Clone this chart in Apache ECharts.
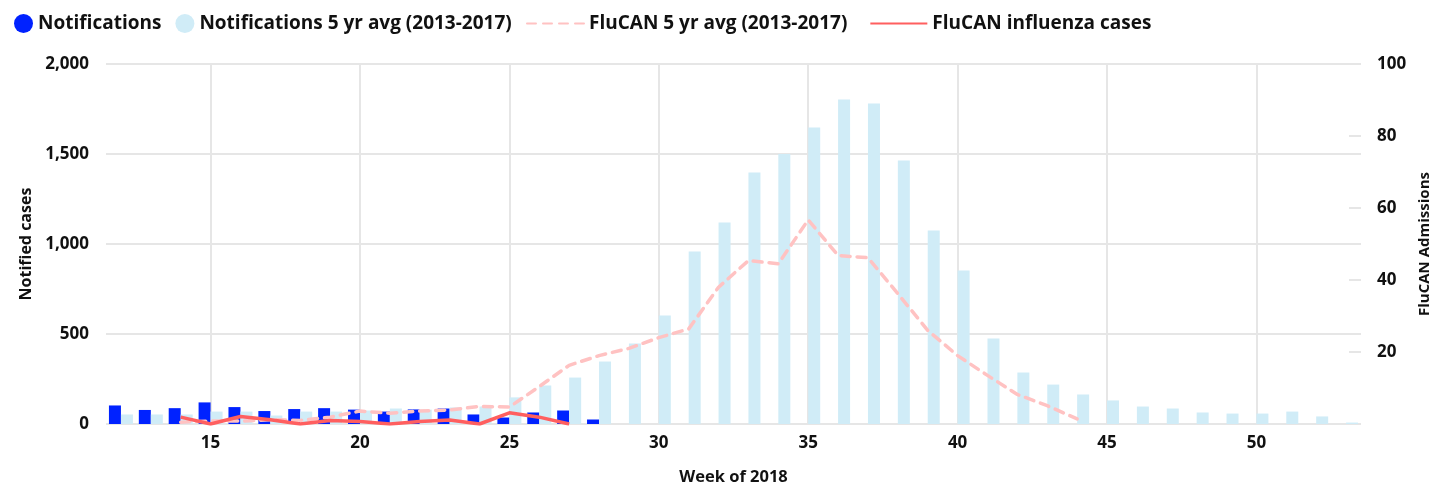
<!DOCTYPE html>
<html>
<head>
<meta charset="utf-8">
<script src="https://cdn.jsdelivr.net/npm/echarts@6/dist/echarts.min.js"></script>
<style>
html,body{margin:0;padding:0;background:#fff;}
#chart{width:1437px;height:484px;}
</style>
</head>
<body>
<div id="chart"></div>
<script>
const weeks = ['12','13','14','15','16','17','18','19','20','21','22','23','24','25','26','27','28','29','30','31','32','33','34','35','36','37','38','39','40','41','42','43','44','45','46','47','48','49','50','51','52','53'];
// Notifications 2018 (weeks 12-28)
const notifications = [103,78,88,120,94,72,83,88,80,69,81,86,53,36,64,75,25];
// Notifications 5 yr avg (weeks 12-53)
const notif5yr = [53,53,53,69,69,47,69,69,75,86,80,92,97,148,214,258,347,447,603,958,1119,1397,1500,1647,1803,1781,1464,1075,853,475,286,219,164,131,97,86,64,58,58,69,42,8];
// FluCAN 5 yr avg (weeks 14-44)
const flucan5yr = [0.5,0.8,0.8,1.2,1.0,1.9,3.6,3.0,3.6,3.9,4.9,4.7,10.4,16.3,19,21,24,26.4,38,45.4,44.5,56.7,46.8,46.2,36.2,26,19,13.5,8.2,5.1,1.4];
const flucan5yrStart = '14';
// FluCAN influenza cases (weeks 14-27)
const flucanCases = [1.9,0,2.1,1.2,0,1,0.7,0,0.7,1.1,0,3.1,1.9,0];
const flucanCasesStart = '14';
const leftTicks = [0,500,1000,1500,2000];
const rightTicks = [0,20,40,60,80,100];

function place(arr, startWeek) {
  const s = weeks.indexOf(startWeek);
  return weeks.map((w, i) => (i >= s && i - s < arr.length) ? arr[i - s] : null);
}

const FONT = 'Open Sans';
const grey = '#e6e6e6';
const chart = echarts.init(document.getElementById('chart'), null, {renderer: 'canvas'});
const every5 = (idx, val) => Number(val) % 5 === 0;
const tickText = {fontFamily: FONT, fontWeight: 'bold', fontSize: 17, color: '#111'};
const nameText = {fontFamily: FONT, fontWeight: 'bold', fontSize: 16, color: '#111'};

chart.setOption({
  animation: false,
  textStyle: {fontFamily: FONT},
  legend: [{
    left: 9, top: 9, icon: 'circle', itemWidth: 19, itemHeight: 19, itemGap: 14,
    textStyle: {fontFamily: FONT, fontWeight: 'bold', fontSize: 19, color: '#111'},
    data: ['Notifications', 'Notifications 5 yr avg (2013-2017)']
  }, {
    left: 521, top: 9, itemWidth: 57, itemHeight: 19, itemGap: 22,
    itemStyle: {opacity: 0},
    textStyle: {fontFamily: FONT, fontWeight: 'bold', fontSize: 19, color: '#111'},
    data: ['FluCAN 5 yr avg (2013-2017)', 'FluCAN influenza cases']
  }],
  grid: {left: 106, right: 76, top: 64, bottom: 60, outerBoundsMode: 'none', containLabel: false},
  xAxis: {
    type: 'category', data: weeks, boundaryGap: true,
    name: 'Week of 2018', nameLocation: 'middle', nameGap: 45,
    nameTextStyle: Object.assign({}, nameText, {fontSize: 16.5}),
    axisLine: {show: false}, axisTick: {show: false},
    axisLabel: Object.assign({interval: every5, margin: 11}, tickText),
    splitLine: {show: true, interval: every5, alignWithLabel: true, lineStyle: {color: grey, width: 2}}
  },
  yAxis: [{
    type: 'value', min: leftTicks[0], max: leftTicks[leftTicks.length - 1], interval: 500,
    name: 'Notified cases', nameLocation: 'middle', nameGap: 67, nameRotate: 90,
    nameTextStyle: nameText,
    axisLine: {show: false}, axisTick: {show: false},
    axisLabel: Object.assign({margin: 17}, tickText),
    splitLine: {show: true, lineStyle: {color: grey, width: 2}}
  }, {
    type: 'value', position: 'right', min: rightTicks[0], max: rightTicks[rightTicks.length - 1], interval: 20,
    name: 'FluCAN Admissions', nameLocation: 'middle', nameGap: 46, nameRotate: 90,
    nameTextStyle: Object.assign({}, nameText, {fontSize: 15}),
    axisLine: {show: false},
    axisTick: {show: true, inside: true, length: 12, lineStyle: {color: grey, width: 2}},
    axisLabel: Object.assign({margin: 16, formatter: v => v === 0 ? '' : String(v)}, tickText),
    splitLine: {show: false}
  }],
  series: [{
    name: 'Notifications', type: 'bar', data: place(notifications, '12'),
    barWidth: 12, barGap: '0%', itemStyle: {color: '#0022ff'}, z: 3
  }, {
    name: 'Notifications 5 yr avg (2013-2017)', type: 'bar', data: notif5yr,
    barWidth: 12, barGap: '0%', itemStyle: {color: '#d0ecf7'}, z: 3
  }, {
    name: 'FluCAN 5 yr avg (2013-2017)', type: 'line', yAxisIndex: 1,
    data: place(flucan5yr, flucan5yrStart), showSymbol: false, symbol: 'none',
    lineStyle: {color: '#ffc2c2', width: 3.5, type: [9, 7], cap: 'round'}, itemStyle: {color: '#ffc2c2'}, z: 4
  }, {
    name: 'FluCAN influenza cases', type: 'line', yAxisIndex: 1,
    data: place(flucanCases, flucanCasesStart), showSymbol: false, symbol: 'none',
    lineStyle: {color: '#ff5f5f', width: 3.5}, itemStyle: {color: '#ff5f5f'}, z: 5
  }]
});
</script>
</body>
</html>
